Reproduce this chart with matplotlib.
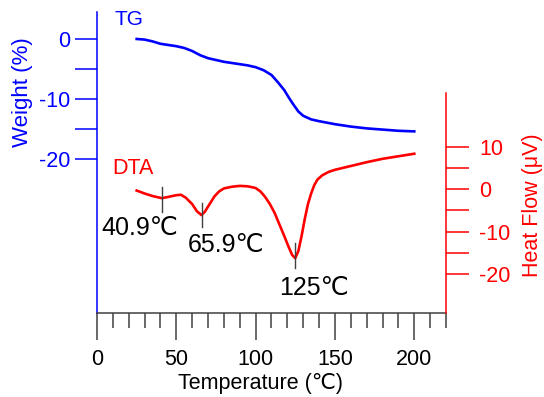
import matplotlib
matplotlib.use("Agg")
import matplotlib.pyplot as plt
from matplotlib.ticker import MultipleLocator, FixedLocator

plt.rcParams['font.family'] = ['Liberation Sans', 'DejaVu Sans']
plt.rcParams['axes.unicode_minus'] = False

# TG curve: temperature (C) vs weight (%)
tg_temp = [25, 30, 35, 40, 45, 50, 55, 60, 65, 70, 75, 80, 85, 90, 95, 100,
           105, 110, 114, 118, 121, 124, 127, 130, 135, 140, 150, 160, 170,
           180, 190, 200]
tg_weight = [0.0, -0.1, -0.4, -0.8, -1.0, -1.2, -1.5, -2.0, -2.7, -3.2, -3.5,
             -3.8, -4.0, -4.2, -4.4, -4.7, -5.2, -6.0, -7.2, -8.5, -9.8, -11.0,
             -12.1, -12.8, -13.4, -13.7, -14.2, -14.6, -14.9, -15.1, -15.3,
             -15.4]

# DTA curve: temperature (C) vs heat flow (uV)
dta_temp = [25, 30, 35, 40.9, 45, 50, 53, 56, 60, 63, 65.9, 68, 71, 74, 77, 80,
            85, 90, 95, 100, 103, 106, 109, 112, 115, 118, 121, 123, 125, 127,
            129, 131, 133, 135, 137, 139, 142, 146, 150, 160, 170, 180, 190,
            200]
dta_flow = [-0.3, -1.0, -1.6, -2.1, -1.8, -1.4, -1.3, -2.0, -3.5, -5.2, -6.1,
            -5.3, -3.5, -1.7, -0.5, 0.2, 0.6, 0.8, 0.7, 0.3, -0.5, -1.8, -3.5,
            -5.6, -8.3, -11.0, -13.8, -15.5, -16.3, -14.5, -11.0, -7.0, -3.5,
            -1.0, 1.0, 2.3, 3.3, 4.1, 4.6, 5.5, 6.4, 7.2, 7.8, 8.4]

# peak markers: temperature, tick top/bottom (heat flow), label
peak_temp = [40.9, 65.9, 125]
peak_top = [0.6, -3.2, -12.7]
peak_bottom = [-5.3, -8.8, -18.6]
peak_labels = ["40.9\u2103", "65.9\u2103", "125\u2103"]
label_pos = [(26.9, -9.15), (81.6, -13.2), (137, -23.3)]

blue = '#0000ff'
red = '#ff0000'
gray = '#404040'

fig = plt.figure(figsize=(5.44, 3.97), dpi=100)
ax = fig.add_axes([0.1783, 0.2116, 0.6415, 0.7582])
ax2 = ax.twinx()

ax.plot(tg_temp, tg_weight, color=blue, lw=1.9)
ax2.plot(dta_temp, dta_flow, color=red, lw=1.9)

for t, top, bot in zip(peak_temp, peak_top, peak_bottom):
    ax2.plot([t, t], [bot, top], color=gray, lw=1.0)
for lab, (x, y) in zip(peak_labels, label_pos):
    ax2.text(x, y, lab, fontsize=18, ha='center', va='center', color='black')

ax.set_xlim(0, 220)
ax.set_ylim(-45.67, 4.5)
ax2.set_ylim(-29.24, 41.9)

# x axis
ax.xaxis.set_major_locator(FixedLocator([0, 50, 100, 150, 200]))
ax.xaxis.set_minor_locator(MultipleLocator(10))
ax.tick_params(axis='x', which='major', direction='out', length=19.4,
               width=1.1, color=gray, labelsize=15.5, pad=6.5)
ax.tick_params(axis='x', which='minor', direction='out', length=10.8,
               width=1.1, color=gray)
ax.set_xlabel("Temperature (\u2103)", fontsize=15.5)
ax.xaxis.set_label_coords((261 - 97) / 349, -0.2)

# left axis (TG)
ax.yaxis.set_major_locator(FixedLocator([0, -10, -20]))
ax.yaxis.set_minor_locator(FixedLocator([-5, -15]))
ax.tick_params(axis='y', which='both', direction='out', length=15.8,
               width=1.1, color=blue, labelcolor=blue, labelsize=15.5, pad=3.6)
ax.set_ylabel("Weight (%)", fontsize=16, color=blue)
ax.yaxis.set_label_coords(-0.183, (313 - 92) / 301)

# right axis (DTA)
ax2.yaxis.set_major_locator(FixedLocator([10, 0, -10, -20]))
ax2.yaxis.set_minor_locator(FixedLocator([5, -5, -15]))
ax2.tick_params(axis='y', which='both', direction='out', length=16.5,
                width=1.1, color=red, labelcolor=red, labelsize=15.5, pad=7.2)
ax2.set_ylabel("Heat Flow (\u03bcV)", fontsize=15.5, color=red)
ax2.yaxis.set_label_coords(1.218, (313 - 205) / 301)

for a in (ax, ax2):
    a.spines['top'].set_visible(False)
ax.spines['right'].set_visible(False)
ax2.spines['left'].set_visible(False)
ax2.spines['bottom'].set_visible(False)
ax.spines['left'].set_color(blue)
ax.spines['left'].set_linewidth(1.1)
ax.spines['bottom'].set_color(gray)
ax.spines['bottom'].set_linewidth(1.1)
ax2.spines['right'].set_color(red)
ax2.spines['right'].set_linewidth(1.1)
ax2.spines['right'].set_bounds(-29.24, 22.8)

ax.text(20.4, 3.25, "TG", fontsize=15, color=blue, ha='center', va='center')
ax2.text(22.7, 5.0, "DTA", fontsize=15.5, color=red, ha='center', va='center')

fig.savefig("out.png", dpi=100)
